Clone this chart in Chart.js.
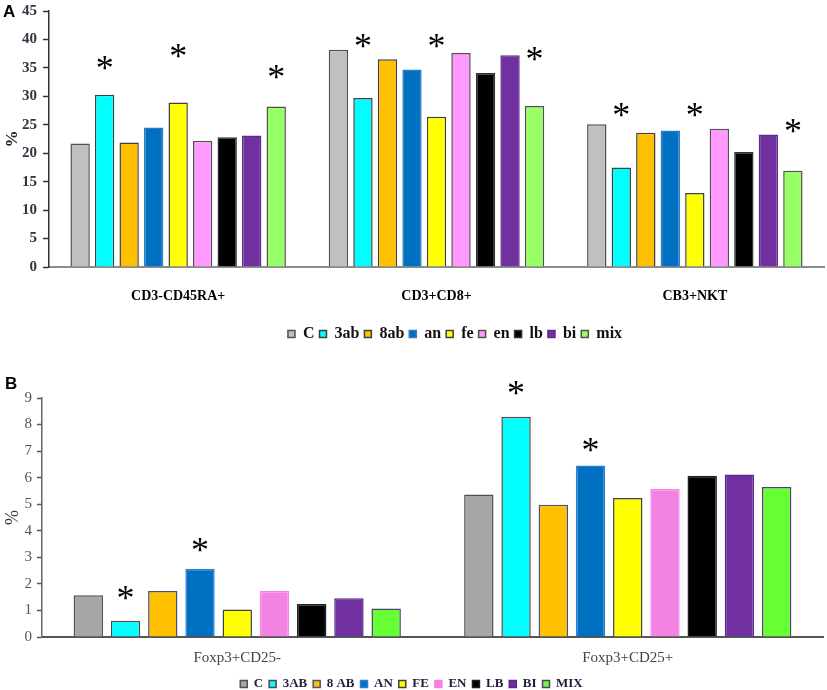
<!DOCTYPE html>
<html>
<head>
<meta charset="utf-8">
<script src="https://cdn.jsdelivr.net/npm/chart.js@4.4.1/dist/chart.umd.min.js"></script>
<style>
  html, body { margin: 0; padding: 0; background: #fff; }
  #wrap { position: relative; width: 827px; height: 690px; overflow: hidden; }
  canvas { display: block; }
  .panel { position: absolute; font: bold 17px "Liberation Sans", Arial, sans-serif; color: #000; }
</style>
</head>
<body>
<div id="wrap">
  <canvas id="chartA" width="827" height="345"></canvas>
  <canvas id="chartB" width="827" height="345"></canvas>
  <div class="panel" style="left:3px;top:2px">A</div>
  <div class="panel" style="left:5px;top:374px">B</div>
</div>
<script>
// panel A
const groupsA = ["CD3-CD45RA+", "CD3+CD8+", "CB3+NKT"];
const namesA = ["C", "3ab", "8ab", "an", "fe", "en", "lb", "bi", "mix"];
const aC   = [21.7, 38.2, 25.1];
const a3ab = [30.3, 29.7, 17.5];
const a8ab = [21.9, 36.5, 23.6];
const aAn  = [24.5, 34.7, 24.0];
const aFe  = [28.9, 26.4, 13.0];
const aEn  = [22.2, 37.6, 24.3];
const aLb  = [22.8, 34.1, 20.2];
const aBi  = [23.1, 37.2, 23.3];
const aMix = [28.2, 28.3, 16.9];
// where the asterisks sit (y value), per group
const starA3ab = [35.8, 39.7, 27.6];
const starAFe  = [38.0, 39.7, 27.6];
const starAMix = [34.3, 37.5, 24.8];
const ticksA = [0, 5, 10, 15, 20, 25, 30, 35, 40, 45];

// panel B
const groupsB = ["Foxp3+CD25-", "Foxp3+CD25+"];
const namesB = ["C", "3AB", "8 AB", "AN", "FE", "EN", "LB", "BI", "MIX"];
const bC   = [1.57, 5.37];
const b3AB = [0.61, 8.29];
const b8AB = [1.73, 4.98];
const bAN  = [2.57, 6.46];
const bFE  = [1.04, 5.23];
const bEN  = [1.73, 5.57];
const bLB  = [1.24, 6.07];
const bBI  = [1.46, 6.12];
const bMIX = [1.07, 5.65];
const starB3AB = [1.67, 9.36];
const starBAN  = [3.46, 7.23];
const ticksB = [0, 1, 2, 3, 4, 5, 6, 7, 8, 9];

const fillA = ["#c0c0c0", "#00ffff", "#ffc000", "#0070c0", "#ffff00", "#ff99ff", "#000000", "#7030a0", "#99ff66"];
const lineA = ["#505050", "#404040", "#404040", "#2e7bc4", "#404040", "#505050", "#303030", "#5e2a8c", "#505050"];
const fillB = ["#a6a6a6", "#00ffff", "#ffc000", "#0070c0", "#ffff00", "#f383e3", "#000000", "#7030a0", "#66ff33"];
const lineB = ["#505050", "#604040", "#505070", "#2f7fd0", "#404040", "#f383e3", "#202020", "#5a2a8a", "#504070"];

const serif = '"Liberation Serif", "Times New Roman", serif';

// asterisks over the bars, placed through the y scale
const stars = {
  id: "stars",
  afterDatasetsDraw(chart) {
    const { ctx } = chart;
    const ys = chart.scales.y;
    ctx.save();
    ctx.font = "36px " + serif;
    ctx.fillStyle = "#000";
    ctx.textAlign = "center";
    ctx.textBaseline = "alphabetic";
    const m = ctx.measureText("*");
    const mid = (m.actualBoundingBoxAscent - m.actualBoundingBoxDescent) / 2;
    chart.data.datasets.forEach((ds, di) => {
      if (!ds.stars) return;
      chart.getDatasetMeta(di).data.forEach((bar, i) => {
        if (ds.stars[i] == null) return;
        ctx.fillText("*", bar.x, ys.getPixelForValue(ds.stars[i]) + mid);
      });
    });
    ctx.restore();
  }
};

// the legend of panel A sits right of centre in the original
const legendShift = {
  id: "legendShift",
  afterLayout(chart, args, opts) {
    if (!opts.dx) return;
    chart.legend.left += opts.dx;
    chart.legend.right += opts.dx;
  }
};

function sets(names, values, fills, lines, starMap) {
  return names.map((n, i) => ({
    label: n,
    data: values[i],
    backgroundColor: fills[i],
    borderColor: lines[i],
    borderWidth: 1.5,
    stars: starMap[i]
  }));
}

function fixY(width) {
  return s => { s.width = width; s.paddingTop = 0; s.paddingBottom = 0; };
}

new Chart(document.getElementById("chartA"), {
  type: "bar",
  data: {
    labels: groupsA,
    datasets: sets(namesA, [aC, a3ab, a8ab, aAn, aFe, aEn, aLb, aBi, aMix], fillA, lineA,
      { 1: starA3ab, 4: starAFe, 8: starAMix })
  },
  options: {
    responsive: false,
    animation: false,
    layout: { padding: { top: 11, right: 3, bottom: -7, left: 0 } },
    datasets: { bar: { categoryPercentage: 0.854, barPercentage: 0.79 } },
    scales: {
      x: {
        grid: { display: false },
        border: { color: "#8c8c8c", width: 2 },
        ticks: { padding: 13, color: "#000", font: { family: serif, weight: "bold", size: 14 } },
        afterFit(s) { s.height = 54; }
      },
      y: {
        min: 0, max: 45,
        afterBuildTicks(s) { s.ticks = ticksA.map(v => ({ value: v })); },
        ticks: { padding: 6, color: "#333344", font: { family: serif, weight: "bold", size: 15 } },
        grid: { drawOnChartArea: false, drawTicks: true, tickLength: 6, tickColor: "#333", tickWidth: 1.5 },
        border: { color: "#333", width: 1.5 },
        title: { display: true, text: "%", padding: 2, color: "#222", font: { family: serif, weight: "bold", size: 17 } },
        afterFit: fixY(49)
      }
    },
    plugins: {
      legend: {
        position: "bottom",
        labels: { boxWidth: 7, boxHeight: 7, padding: 5, color: "#111", font: { family: serif, weight: "bold", size: 16 } }
      },
      legendShift: { dx: 43 },
      tooltip: { enabled: false }
    }
  },
  plugins: [stars, legendShift]
});

new Chart(document.getElementById("chartB"), {
  type: "bar",
  data: {
    labels: groupsB,
    datasets: sets(namesB, [bC, b3AB, b8AB, bAN, bFE, bEN, bLB, bBI, bMIX], fillB, lineB,
      { 1: starB3AB, 3: starBAN })
  },
  options: {
    responsive: false,
    animation: false,
    layout: { padding: { top: 53, right: 4, bottom: -10.5, left: 0 } },
    datasets: { bar: { categoryPercentage: 0.858, barPercentage: 0.79 } },
    scales: {
      x: {
        grid: { display: false },
        border: { color: "#555", width: 2 },
        ticks: { padding: 4, color: "#444", font: { family: serif, size: 15 } },
        afterFit(s) { s.height = 34.5; }
      },
      y: {
        min: 0, max: 9,
        afterBuildTicks(s) { s.ticks = ticksB.map(v => ({ value: v })); },
        ticks: { padding: 5, color: "#555", font: { family: serif, size: 15 } },
        grid: { drawOnChartArea: false, drawTicks: true, tickLength: 5, tickColor: "#555", tickWidth: 1.5 },
        border: { color: "#666", width: 1.5 },
        title: { display: true, text: "%", padding: 2, color: "#333", font: { family: serif, size: 18 } },
        afterFit: fixY(42)
      }
    },
    plugins: {
      legend: {
        position: "bottom",
        labels: { boxWidth: 7, boxHeight: 7, padding: 6, color: "#1e1e3c", font: { family: serif, weight: "bold", size: 13 } }
      },
      tooltip: { enabled: false }
    }
  },
  plugins: [stars]
});
</script>
</body>
</html>
